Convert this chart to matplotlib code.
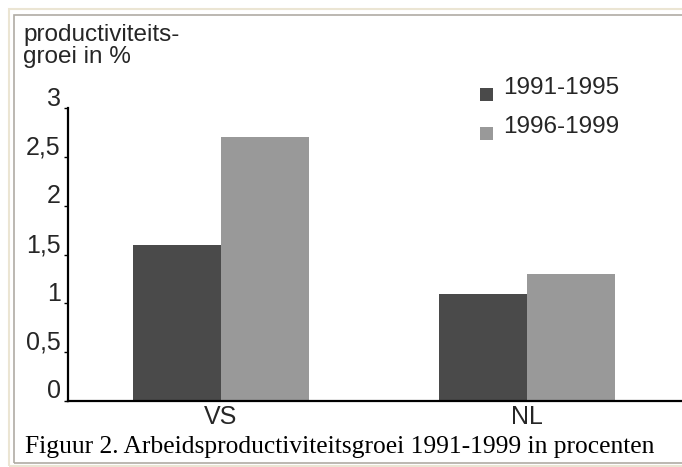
import numpy as np
import matplotlib
matplotlib.use("Agg")
import matplotlib.pyplot as plt
from matplotlib.patches import Rectangle
from matplotlib.transforms import ScaledTranslation

# gegevens
landen = ["VS", "NL"]
perioden = ["1991-1995", "1996-1999"]
groei_1991_1995 = [1.6, 1.1]
groei_1996_1999 = [2.7, 1.3]
yticks = [0, 0.5, 1, 1.5, 2, 2.5, 3]
ytick_labels = ["0", "0,5", "1", "1,5", "2", "2,5", "3"]

donker = "#4a4a4a"
licht = "#999999"
tekst = "#262626"

plt.rcParams['font.family'] = ['Liberation Sans', 'DejaVu Sans']

W, H = 682, 467
fig = plt.figure(figsize=(W / 100, H / 100), dpi=100)
fig.patch.set_facecolor("white")

# kaders rond de figuur
fig.patches.append(Rectangle((9 / W, 1 - 466 / H), 2, 457 / H, transform=fig.transFigure,
                             fill=False, edgecolor="#ebe5d3", linewidth=1.5))
fig.patches.append(Rectangle((14.5 / W, 1 - 463 / H), 2, 448 / H, transform=fig.transFigure,
                             fill=False, edgecolor="#b0aca4", linewidth=1.2))

ax = fig.add_axes([68 / W, 1 - 401 / H, 614 / W, 293 / H])
x = np.arange(len(landen))
b = 0.288
staven = []
staven.append(ax.bar(x - b / 2, groei_1991_1995, b, color=donker, label=perioden[0]))
staven.append(ax.bar(x + b / 2, groei_1996_1999, b, color=licht, label=perioden[1]))

ax.set_xlim(-0.5, 1.507)
ax.set_ylim(0, 3)
ax.set_yticks(yticks)
ax.set_yticklabels(ytick_labels, fontsize=18, color=tekst, va="baseline")
ax.set_xticks(x)
ax.set_xticklabels(landen, fontsize=18, color=tekst)
ax.tick_params(axis="x", length=0, pad=3)
ax.tick_params(axis="y", length=3, width=1, pad=2.2, color="black")
for lab in ax.get_yticklabels():
    lab.set_transform(lab.get_transform() + ScaledTranslation(0, 0.025, fig.dpi_scale_trans))

for s in ["top", "right"]:
    ax.spines[s].set_visible(False)
ax.spines["left"].set_linewidth(1.6)
ax.spines["bottom"].set_linewidth(1.6)

# legenda
for i, (p, c) in enumerate(zip(perioden, [donker, licht])):
    y0 = 88 + i * 39
    fig.patches.append(Rectangle((480 / W, 1 - (y0 + 13) / H), 13 / W, 13 / H,
                                 transform=fig.transFigure, facecolor=c, edgecolor="none"))
    fig.text(503 / W, 1 - (94 + i * 39) / H, p, fontsize=17.5, color=tekst,
             va="baseline", ha="left")

fig.text(23 / W, 1 - 41 / H, "productiviteits-", fontsize=17.5, color=tekst,
         va="baseline", ha="left")
fig.text(23 / W, 1 - 63 / H, "groei in %", fontsize=17.5, color=tekst,
         va="baseline", ha="left")
fig.text(25 / W, 1 - 453 / H, "Figuur 2. Arbeidsproductiviteitsgroei 1991-1999 in procenten",
         fontsize=18.4, family="Liberation Serif", color="black", va="baseline", ha="left")

fig.savefig("out.png", dpi=100)
